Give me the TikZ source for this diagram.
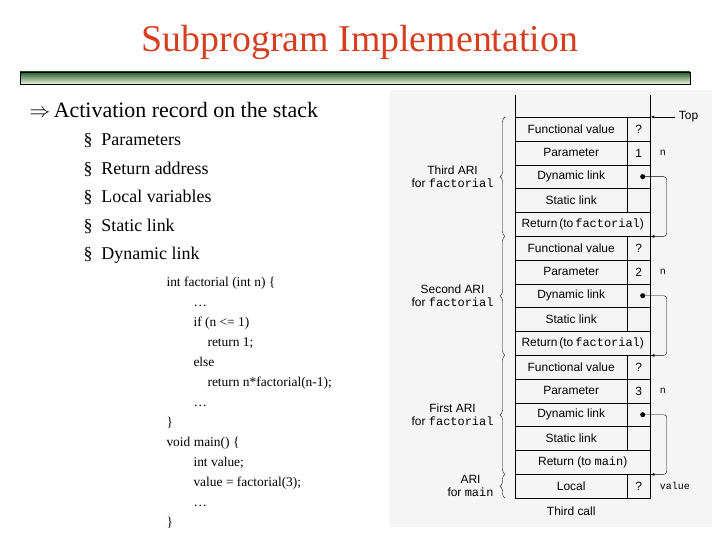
\documentclass[tikz,border=0pt]{standalone}
\usepackage{fontspec}
\setmainfont{Liberation Serif}
\setsansfont{Liberation Sans}
\setmonofont{Liberation Mono}
\usetikzlibrary{positioning,arrows,calc,decorations.pathreplacing}
\definecolor{titlered}{RGB}{214,62,32}
\definecolor{bardark}{RGB}{40,90,40}
\definecolor{barlight}{RGB}{235,245,225}
\tikzset{
    >=latex,
    cell/.style = {
        draw,
        shape=rectangle,
        minimum height=23.8bp,
        inner sep=0pt,
        font=\sffamily\fontsize{12}{14}\selectfont
    },
    side/.style = {
        font=\sffamily\fontsize{12}{13}\selectfont,
        align=center
    },
    item/.style = {
        anchor=west,
        font=\fontsize{18}{20}\selectfont
    },
    brace/.style = {
        decorate,
        decoration={brace,amplitude=5bp}
    },
}
\begin{document}
\begin{tikzpicture}[x=1bp,y=-1bp]
                \useasboundingbox (0,0) rectangle (720,540);
                % title and bar
                \node[text=titlered, font=\fontsize{38}{40}\selectfont] (title) at (360,42) {Subprogram Implementation};
                \shade[top color=bardark, bottom color=barlight, draw=black] (20,72) rectangle (690,84);
                % left text
                \node[item, font=\fontsize{22}{24}\selectfont] (head) at (26,110) {$\Rightarrow$\,Activation record on the stack};
                \node[item] (i1) at (80,141) {\S\ \ Parameters};
                \node[item] (i2) at (80,169) {\S\ \ Return address};
                \node[item] (i3) at (80,197) {\S\ \ Local variables};
                \node[item] (i4) at (80,226) {\S\ \ Static link};
                \node[item] (i5) at (80,255) {\S\ \ Dynamic link};
                \node[anchor=north west, align=left, font=\fontsize{13.5}{20}\selectfont] (code) at (163,274)
                {int factorial (int n) \{\\
                \hspace*{27bp}\dots\\
                \hspace*{27bp}if (n <= 1)\\
                \hspace*{41bp}return 1;\\
                \hspace*{27bp}else\\
                \hspace*{41bp}return n*factorial(n-1);\\
                \hspace*{27bp}\dots\\
                \}\\
                void main() \{\\
                \hspace*{27bp}int value;\\
                \hspace*{27bp}value = factorial(3);\\
                \hspace*{27bp}\dots\\
                \}};
                % stack picture
                \fill[black!4] (390,90) rectangle (712,527);
                \draw (515,95) -- (515,117);
                \draw (650,95) -- (650,117);
                \foreach \i/\lab/\val in {0/Functional value/?, 1/Parameter/1, 2/Dynamic link/, 3/Static link/,
                    5/Functional value/?, 6/Parameter/2, 7/Dynamic link/, 8/Static link/,
                    10/Functional value/?, 11/Parameter/3, 12/Dynamic link/, 13/Static link/, 15/Local/?} {
                    \node[cell, minimum width=112bp, anchor=north west] (r\i) at (515,117+23.8*\i) {\lab};
                    \node[cell, minimum width=23bp, anchor=north west] (v\i) at (627,117+23.8*\i) {\val};
                }
                \node[cell, minimum width=135bp, anchor=north west] (r4) at (515,117+23.8*4) {Return\,(to\,\texttt{factorial})};
                \node[cell, minimum width=135bp, anchor=north west] (r9) at (515,117+23.8*9) {Return\,(to\,\texttt{factorial})};
                \node[cell, minimum width=135bp, anchor=north west] (r14) at (515,117+23.8*14) {Return (to \texttt{main})};
                % side names
                \foreach \i in {1,6,11} \node[font=\ttfamily, right=6bp of v\i] (n\i) {n};
                \node[font=\ttfamily, right=6bp of v15] (val) {value};
                \node[side, anchor=west] (top) at ($(v0.north east)+(25,0)$) {Top};
                \draw[->] (top.west) -- (v0.north east);
                % dynamic links
                \foreach \i/\j in {2/4,7/9,12/14} {
                    \fill (v\i.center)++(4,0) circle (2.5bp);
                    \draw[->, rounded corners=3bp] ($(v\i.center)+(4,0)$) -- ++(24,0) |- (r\j.south east);
                }
                % braces
                \draw[brace] ($(r4.south west)+(-10,0)$) -- ($(r0.north west)+(-10,0)$) coordinate[midway] (b1);
                \draw[brace] ($(r9.south west)+(-10,0)$) -- ($(r4.south west)+(-10,0)$) coordinate[midway] (b2);
                \draw[brace] ($(r14.south west)+(-10,0)$) -- ($(r9.south west)+(-10,0)$) coordinate[midway] (b3);
                \draw[brace] ($(r15.south west)+(-10,0)$) -- ($(r14.south west)+(-10,0)$) coordinate[midway] (b4);
                \node[side, left=8bp of b1] {Third ARI\\for \texttt{factorial}};
                \node[side, left=8bp of b2] {Second ARI\\for \texttt{factorial}};
                \node[side, left=8bp of b3] {First ARI\\for \texttt{factorial}};
                \node[side, left=8bp of b4] {ARI\\for \texttt{main}};
                \node[side, below=5bp of r15.south] (tc) {Third call};
            \end{tikzpicture}
\end{document}
